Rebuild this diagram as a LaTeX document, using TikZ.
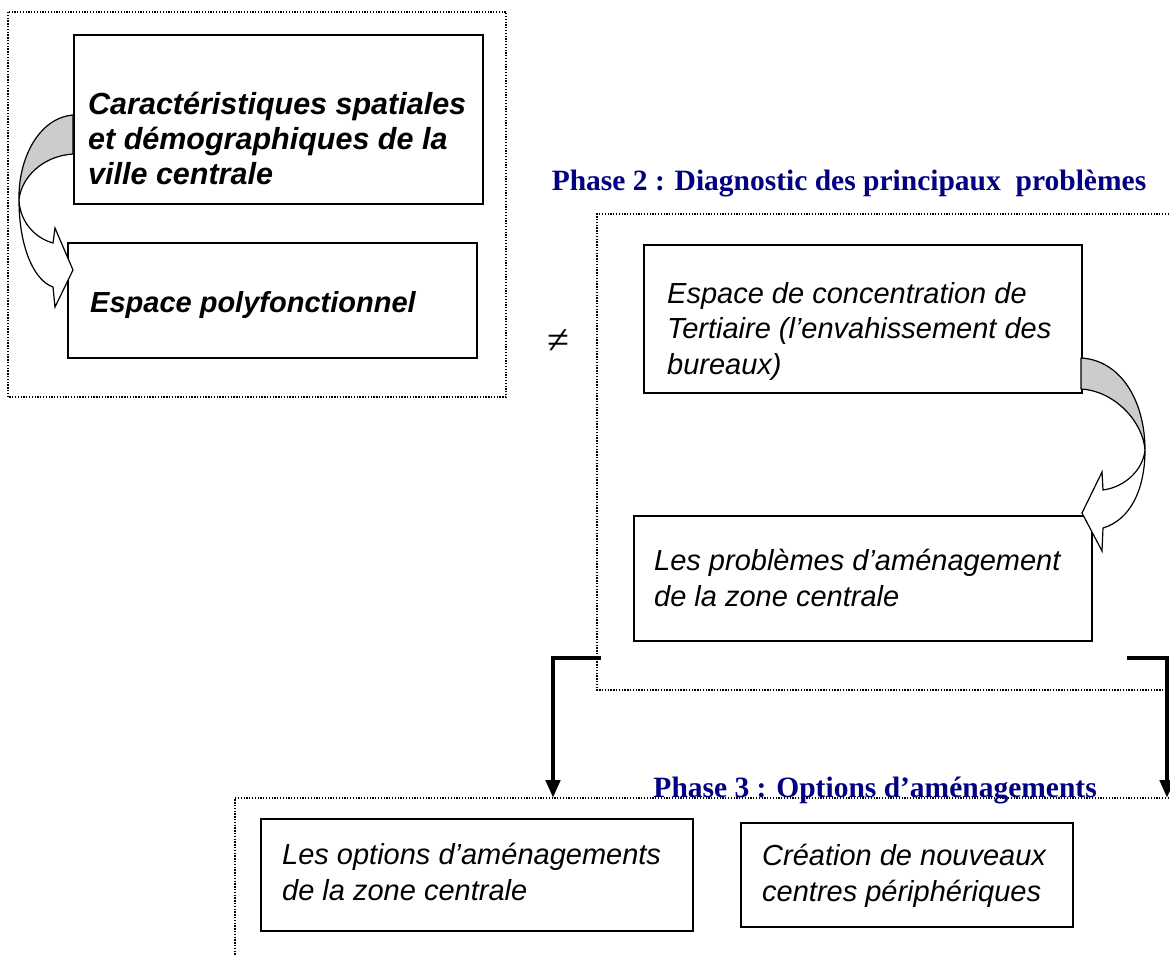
\documentclass[tikz,border=0pt]{standalone}
\usepackage{fontspec}
\setmainfont{Liberation Sans}
\newfontfamily\titlefont{Liberation Serif}
\usetikzlibrary{arrows.meta}
\definecolor{titleblue}{RGB}{0,0,128}
\begin{document}
\begin{tikzpicture}[x=1pt,y=-1pt,
  box/.style={draw, line width=2pt, inner sep=0, anchor=north west},
  frame/.style={line width=1.3pt, dash pattern=on 1.3pt off 1.5pt},
  txt/.style={anchor=west, align=left, inner sep=0, font=\fontsize{29}{35.5}\selectfont\itshape},
  btxt/.style={anchor=west, align=left, inner sep=0, font=\fontsize{29}{35}\selectfont\bfseries\itshape},
  title/.style={font=\fontsize{29.5}{34}\selectfont\titlefont\bfseries, text=titleblue, inner sep=0},
  bracket/.style={line width=4.5pt, -{Triangle[length=18pt,width=14pt]}},
  back/.style={draw, line width=1.2pt, fill=gray!40, line join=round},
  front/.style={draw, line width=1.2pt, fill=white, line join=miter}
]
\clip (0,0) rectangle (1170,954);
\fill[white] (0,0) rectangle (1170,954);

% dotted phase frames
\draw[frame] (8,12) rectangle (506,397);
\draw[frame] (1180,214) -- (597,214) -- (597,690) -- (1180,690);
\draw[frame] (1180,798) -- (235,798) -- (235,960);

% titles
\node[title, anchor=base] (t2) at (849,190) {Phase 2 : Diagnostic des principaux\ \ problèmes};
\node[title, anchor=base east] (t3) at (1097,797) {Phase 3 : Options d’aménagements};

% boxes
\node[box, minimum width=409pt, minimum height=169pt] (b1) at (73,34) {};
\node[box, minimum width=409pt, minimum height=115pt] (b2) at (67,242) {};
\node[box, minimum width=438pt, minimum height=148pt] (b3) at (643,244) {};
\node[box, minimum width=458pt, minimum height=125pt] (b4) at (633,515) {};
\node[box, minimum width=432pt, minimum height=112pt] (b5) at (260,818) {};
\node[box, minimum width=332pt, minimum height=104pt] (b6) at (740,822) {};

% texts
\node[btxt, font=\fontsize{30.5}{35}\selectfont\bfseries\itshape] (x1) at (88,138) {Caractéristiques spatiales\\et démographiques de la\\ville centrale};
\node[btxt] (x2) at (90,305) {Espace polyfonctionnel};
\node[txt] (x3) at (667,331) {Espace de concentration de\\Tertiaire (l’envahissement des\\bureaux)};
\node[txt] (x4) at (654,578) {Les problèmes d’aménagement\\de la zone centrale};
\node[txt] (x5) at (282,872) {Les options d’aménagements\\de la zone centrale};
\node[txt] (x6) at (762,876) {Création de nouveaux\\centres périphériques};

% not-equal sign
\node[inner sep=0, font=\fontsize{40}{40}\selectfont\titlefont] (ne) at (558,342) {≠};

% left curved arrow (phase 1)
\path[back] (73,115) .. controls (38,118) and (18,160) .. (19,200)
  .. controls (21,178) and (42,156) .. (73,154) -- cycle;
\path[front] (19,200) .. controls (19,245) and (33,280) .. (53,287)
  -- (55,307) -- (73,270) -- (55,228) -- (53,243)
  .. controls (35,238) and (20,222) .. (19,200) -- cycle;

% right curved arrow (phase 2)
\path[back] (1081,358) .. controls (1120,360) and (1145,400) .. (1145,450)
  .. controls (1143,422) and (1115,391) .. (1081,389) -- cycle;
\path[front] (1145,450) .. controls (1145,490) and (1130,520) .. (1103,528)
  -- (1102,551) -- (1082,513) -- (1102,472) -- (1103,490)
  .. controls (1125,487) and (1143,470) .. (1145,450) -- cycle;

% brackets to phase 3
\coordinate (l0) at (601,658);
\coordinate (l1) at (553,658);
\coordinate (l2) at (553,798);
\coordinate (r0) at (1127,658);
\coordinate (r1) at (1167,658);
\coordinate (r2) at (1167,798);
\draw[bracket] (l0) -- (l1) -- (l2);
\draw[bracket] (r0) -- (r1) -- (r2);
\end{tikzpicture}
\end{document}
